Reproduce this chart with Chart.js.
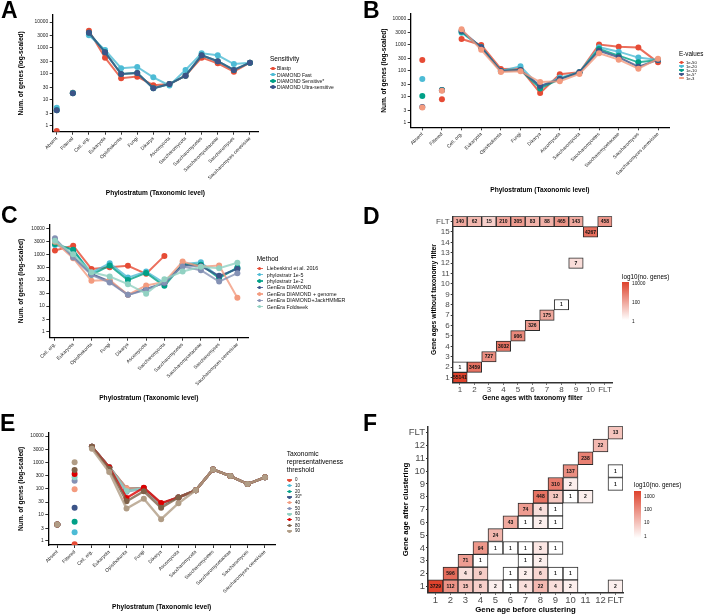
<!DOCTYPE html>
<html>
<head>
<meta charset="utf-8">
<script src="https://cdn.jsdelivr.net/npm/chart.js@4.4.1/dist/chart.umd.min.js"></script>
<style>
  body { margin: 0; background: #fff; font-family: 'Liberation Sans', Arial, sans-serif; }
  #fig { position: relative; width: 708px; height: 615px; overflow: hidden; }
  canvas { position: absolute; }
  .tag { position: absolute; font-weight: bold; font-size: 23px; line-height: 23px; color: #000; }
  .lg { position: absolute; white-space: nowrap; color: #111; }
</style>
</head>
<body>
<div id="fig">
  <canvas id="chA" width="354" height="205" style="left:0;top:0"></canvas>
  <canvas id="chB" width="354" height="205" style="left:354px;top:0"></canvas>
  <canvas id="chC" width="354" height="205" style="left:0;top:205px"></canvas>
  <canvas id="chD" width="354" height="205" style="left:354px;top:205px"></canvas>
  <canvas id="chE" width="354" height="205" style="left:0;top:410px"></canvas>
  <canvas id="chF" width="354" height="205" style="left:354px;top:410px"></canvas>
  <div class="tag" style="left:1px;top:-1px">A</div>
  <div class="tag" style="left:363px;top:-1px">B</div>
  <div class="tag" style="left:1px;top:204px">C</div>
  <div class="tag" style="left:363px;top:205px">D</div>
  <div class="tag" style="left:0;top:412px">E</div>
  <div class="tag" style="left:363px;top:412px">F</div>
</div>
<script>
Chart.defaults.font.family = "'Liberation Sans', Arial, sans-serif";

// categories
const phyloCats = ['Absent', 'Filtered', 'Cell. org.', 'Eukaryota', 'Opisthokonta', 'Fungi', 'Dikarya',
  'Ascomycota', 'Saccharomycota', 'Saccharomycetes', 'Saccharomycetaceae', 'Saccharomyces', 'Saccharomyces cerevisiae'];
const methodCats = ['Cell. org.', 'Eukaryota', 'Opisthokonta', 'Fungi', 'Dikarya', 'Ascomycota',
  'Saccharomycota', 'Saccharomycetes', 'Saccharomycetaceae', 'Saccharomyces', 'Saccharomyces cerevisiae'];
const logTicks = [1, 3, 10, 30, 100, 300, 1000, 3000, 10000];

// A - sensitivity
const sensNames = ['Blastp', 'DIAMOND Fast', 'DIAMOND Sensitive*', 'DIAMOND Ultra-sensitive'];
const sensColors = ['#E64B35', '#4DBBD5', '#00A087', '#3C5488'];
const blastp    = [0.64, 19, 4650, 425, 68, 79, 37, 41, 86, 425, 257, 122, 272];
const dmdFast   = [5.0, 19, 3080, 835, 166, 186, 74, 36, 143, 625, 525, 240, 272];
const dmdSens   = [4.0, 18, 3880, 690, 100, 110, 28, 41, 86, 525, 310, 143, 272];
const dmdUltra  = [4.0, 18, 3880, 680, 100, 109, 28, 41, 86, 525, 310, 143, 272];

// B - e-values
const evalNames = ['1e-50', '1e-20', '1e-10', '1e-5*', '1e-3'];
const evalColors = ['#E64B35', '#4DBBD5', '#00A087', '#3C5488', '#F39B7F'];
const e50 = [264, 8.0, 1700, 1000, 118, 121, 14, 74, 88, 1030, 860, 790, 213];
const e20 = [48.6, 18.3, 2970, 815, 99, 150, 24, 55, 88, 815, 550, 325, 265];
const e10 = [10.7, 18.3, 3250, 815, 99, 108, 21, 48, 88, 700, 385, 213, 265];
const e5  = [4.0, 18, 3550, 815, 99, 108, 26, 48, 88, 600, 335, 145, 265];
const e3  = [3.9, 17, 4050, 645, 91, 97, 37, 40, 76, 477, 270, 121, 290];

// C - methods
const methNames = ['Liebeskind et al. 2016', 'phylostratr 1e-5', 'phylostratr 1e-2', 'GenEra DIAMOND',
  'GenEra DIAMOND + genome', 'GenEra DIAMOND+JackHMMER', 'GenEra Foldseek'];
const methColors = ['#E64B35', '#4DBBD5', '#00A087', '#3C5488', '#F39B7F', '#8491B4', '#91D1C2'];
const liebeskind = [1380, 2140, 270, 315, 355, 175, 860, null, null, null, null];
const pstr1e5    = [2280, 1400, 190, 450, 125, 215, 77, 410, 490, 130, 290];
const pstr1e2    = [2500, 1500, 160, 365, 100, 190, 60, 410, 390, 120, 305];
const generaDmd  = [3500, 800, 175, 90, 27, 46, 77, 375, 350, 146, 270];
const generaGen  = [3000, 700, 94, 100, 27, 62, 85, 520, 330, 365, 21];
const generaJack = [4100, 750, 160, 81, 27, 42, 80, 333, 240, 88, 185];
const foldseek   = [3270, 1000, 200, 137, 70, 30, 109, 215, 330, 290, 470];

// E - taxonomic representativeness threshold
const thrNames = ['0', '10', '20', '30*', '40', '50', '60', '70', '80', '90'];
const thrColors = ['#E64B35', '#4DBBD5', '#00A087', '#3C5488', '#F39B7F', '#8491B4', '#91D1C2', '#DC0000', '#7E6148', '#B09C85'];
const thr0  = [4.2, 0.73, 3880, 640, 100, 100, 25, 45, 84, 530, 295, 146, 265];
const thr10 = [4.2, 2.1, 3880, 640, 98, 100, 25, 45, 84, 530, 295, 146, 265];
const thr20 = [4.2, 5.3, 3880, 640, 95, 100, 25, 45, 84, 530, 295, 146, 265];
const thr30 = [4.2, 18, 3880, 640, 90, 100, 25, 45, 84, 530, 295, 146, 265];
const thr40 = [4.2, 92, 3880, 640, 100, 100, 25, 45, 84, 530, 295, 146, 265];
const thr50 = [4.2, 195, 3880, 640, 74, 100, 25, 45, 84, 530, 295, 146, 265];
const thr60 = [4.2, 265, 3880, 640, 80, 100, 25, 45, 84, 530, 295, 146, 265];
const thr70 = [4.2, 350, 3880, 640, 43, 105, 27.5, 45, 84, 530, 295, 146, 265];
const thr80 = [4.2, 500, 3880, 560, 32, 77, 18, 45, 84, 530, 295, 146, 265];
const thr90 = [4.2, 1000, 3250, 420, 17, 40, 6.6, 27, 84, 530, 295, 146, 265];

// D - taxonomy filter heatmap
const dCols = ['1', '2', '3', '4', '5', '6', '7', '8', '9', '10', 'FLT'];
const dRows = ['1', '2', '3', '4', '5', '6', '7', '8', '9', '10', '11', '12', '13', '14', '15', 'FLT'];
const dX = ['1', '1', '2', '3', '4', '5', '6', '7', '8', '9', '10', '1', '2', '3', '4', '5', '6', '7', '8', '9', 'FLT'];
const dY = ['1', '2', '2', '3', '4', '5', '6', '7', '8', '12', '15', 'FLT', 'FLT', 'FLT', 'FLT', 'FLT', 'FLT', 'FLT', 'FLT', 'FLT', 'FLT'];
const dN = [55141, 1, 3459, 727, 3032, 906, 326, 175, 1, 7, 4267, 140, 62, 15, 210, 305, 83, 88, 465, 143, 458];

// F - clustering heatmap
const fCols = ['1', '2', '3', '4', '5', '6', '7', '8', '9', '10', '11', '12', 'FLT'];
const fRows = ['1', '2', '3', '4', '5', '6', '7', '8', '9', '10', '11', '12', 'FLT'];
const fX = ['1', '2', '3', '4', '5', '6', '7', '8', '9', '10', 'FLT',
  '2', '3', '4', '6', '7', '8', '9', '10',
  '3', '4', '7', '8',
  '4', '5', '6', '7', '8', '9',
  '5',
  '6', '7', '8', '9',
  '7', '8', '9',
  '8', '9', '10', '11',
  '9', '10', 'FLT',
  '10', 'FLT',
  '11', '12', 'FLT'];
const fY = ['1', '1', '1', '1', '1', '1', '1', '1', '1', '1', '1',
  '2', '2', '2', '2', '2', '2', '2', '2',
  '3', '3', '3', '3',
  '4', '4', '4', '4', '4', '4',
  '5',
  '6', '6', '6', '6',
  '7', '7', '7',
  '8', '8', '8', '8',
  '9', '9', '9',
  '10', '10',
  '11', '12', 'FLT'];
const fN = [3729, 112, 15, 8, 2, 1, 4, 22, 4, 2, 2,
  596, 4, 9, 1, 2, 6, 1, 1,
  71, 1, 1, 2,
  94, 1, 1, 1, 3, 1,
  24,
  43, 1, 2, 1,
  74, 4, 1,
  448, 12, 1, 2,
  310, 2, 1,
  137, 1,
  238, 22, 13];

function rgba(hex, a) {
  const n = parseInt(hex.slice(1), 16);
  return `rgba(${n >> 16},${(n >> 8) & 255},${n & 255},${a})`;
}

function lineChart(id, cats, names, colors, series, g) {
  const n = series.length;
  const datasets = series.map((s, i) => ({
    label: names[i],
    data: s.map((v, j) => ({ x: j, y: v })),
    borderColor: rgba(colors[i], 0.8),
    backgroundColor: colors[i],
    pointBackgroundColor: colors[i],
    pointBorderWidth: 0,
    pointRadius: 3,
    pointHoverRadius: 3,
    borderWidth: g.lw,
    order: n - i,
    segment: { borderColor: c => c.p0DataIndex < g.loose ? 'rgba(0,0,0,0)' : undefined }
  }));
  new Chart(document.getElementById(id), {
    type: 'line',
    data: { datasets },
    options: {
      responsive: false,
      animation: false,
      layout: { padding: { left: 0, top: g.top, right: 354 - g.right, bottom: 0 } },
      plugins: { legend: { display: false }, tooltip: { enabled: false } },
      scales: {
        x: {
          type: 'linear', min: g.xmin, max: g.xmax,
          afterBuildTicks: s => { s.ticks = cats.map((c, i) => ({ value: i })); },
          afterFit: s => { s.height = 205 - g.bottom; },
          ticks: { autoSkip: false, minRotation: 45, maxRotation: 45, padding: 1, color: '#222',
            font: { size: 4.9 }, callback: v => cats[v] },
          grid: { drawOnChartArea: false, tickLength: 3, color: '#000', tickWidth: 0.8 },
          border: { color: '#000', width: 1.3 },
          title: { display: true, text: 'Phylostratum (Taxonomic level)', color: '#000',
            font: { size: 6.6, weight: 'bold' }, padding: { top: 0, bottom: g.xtp } }
        },
        y: {
          type: 'logarithmic', min: g.lo, max: g.hi,
          afterBuildTicks: s => { s.ticks = logTicks.map(v => ({ value: v })); },
          afterFit: s => { s.width = g.left; },
          ticks: { padding: 1.5, color: '#222', font: { size: 4.9 }, callback: v => String(v) },
          grid: { drawOnChartArea: false, tickLength: 3, color: '#000', tickWidth: 0.8 },
          border: { color: '#000', width: 1.3 },
          title: { display: true, text: 'Num. of genes (log-scaled)', color: '#000',
            font: { size: 6.6, weight: 'bold' }, padding: { top: g.ytp, bottom: 0 } }
        }
      }
    }
  });
}

const heatHigh = [222, 66, 44];
function heatColor(v, maxLog) {
  const t = Math.max(0, Math.min(1, Math.log10(v) / maxLog));
  const c = heatHigh.map(h => Math.round(255 + (h - 255) * t));
  return `rgb(${c[0]},${c[1]},${c[2]})`;
}

const cellText = {
  id: 'cellText',
  afterDatasetsDraw(chart) {
    const ctx = chart.ctx;
    const ds = chart.data.datasets[0];
    ctx.save();
    ctx.font = "bold 5px 'Liberation Sans', Arial, sans-serif";
    ctx.fillStyle = '#111';
    ctx.textAlign = 'center';
    ctx.textBaseline = 'middle';
    chart.getDatasetMeta(0).data.forEach((el, i) => {
      ctx.fillText(String(ds.data[i].n), el.x, (el.y + el.base) / 2 + 0.3);
    });
    ctx.restore();
  }
};

function heatChart(id, cols, rows, cx, cy, cn, g) {
  const maxLog = Math.log10(Math.max(...cn));
  const data = cx.map((c, i) => {
    const r = rows.indexOf(cy[i]) + 1;
    return { x: c, y: [r - 0.5, r + 0.5], n: cn[i] };
  });
  new Chart(document.getElementById(id), {
    type: 'bar',
    data: {
      labels: cols,
      datasets: [{
        data,
        backgroundColor: c => c.raw ? heatColor(c.raw.n, maxLog) : '#fff',
        borderColor: '#2b2b2b',
        borderWidth: 1,
        borderSkipped: false,
        barPercentage: 1,
        categoryPercentage: 1
      }]
    },
    options: {
      responsive: false,
      animation: false,
      layout: { padding: { left: 0, top: g.top, right: 354 - g.right, bottom: 0 } },
      plugins: { legend: { display: false }, tooltip: { enabled: false } },
      scales: {
        x: {
          type: 'category', offset: true,
          afterFit: s => { s.height = 205 - g.bottom; },
          ticks: { autoSkip: false, maxRotation: 0, padding: 0, color: '#4D4D4D', font: { size: g.fs } },
          grid: { drawOnChartArea: false, offset: false, tickLength: 2, color: '#333' },
          border: { color: '#333', width: 1.5 },
          title: { display: true, text: g.xt, color: '#000', font: { size: g.ts, weight: 'bold' },
            padding: { top: 0, bottom: g.xtp } }
        },
        y: {
          type: 'linear', min: 0.5, max: rows.length + 0.5,
          afterBuildTicks: s => { s.ticks = rows.map((r, i) => ({ value: i + 1 })); },
          afterFit: s => { s.width = g.left; },
          ticks: { autoSkip: false, padding: 1, color: '#4D4D4D', font: { size: g.fs },
            callback: v => rows[v - 1] },
          grid: { drawOnChartArea: false, tickLength: 2, color: '#333' },
          border: { color: '#333', width: 1.5 },
          title: { display: true, text: g.yt, color: '#000', font: { size: g.ts, weight: 'bold' },
            padding: { top: g.ytp, bottom: 0 } }
        }
      }
    },
    plugins: [cellText]
  });
}

const fig = document.getElementById('fig');
function addText(x, y, text, size, extra) {
  const d = document.createElement('div');
  d.className = 'lg';
  d.style.left = x + 'px';
  d.style.top = (y - size * 0.6) + 'px';
  d.style.fontSize = size + 'px';
  d.style.lineHeight = (size * 1.2) + 'px';
  if (extra) Object.assign(d.style, extra);
  d.textContent = text;
  fig.appendChild(d);
}
function lineLegend(L, names, colors) {
  L.title.forEach((t, k) => addText(L.x, L.ty + k * L.tstep, t, L.tsize, { color: '#000' }));
  names.forEach((name, i) => {
    const cy = L.y0 + i * L.step;
    const ln = document.createElement('div');
    Object.assign(ln.style, { position: 'absolute', left: L.x + 'px', top: (cy - 0.8) + 'px',
      width: L.sw + 'px', height: '1.6px', background: rgba(colors[i], 0.85) });
    fig.appendChild(ln);
    const dot = document.createElement('div');
    const r = L.dot;
    Object.assign(dot.style, { position: 'absolute', left: (L.x + L.sw / 2 - r) + 'px', top: (cy - r) + 'px',
      width: 2 * r + 'px', height: 2 * r + 'px', borderRadius: '50%', background: colors[i] });
    fig.appendChild(dot);
    addText(L.tx, cy, name, L.size);
  });
}
function barLegend(B) {
  addText(B.x, B.ty, 'log10(no. genes)', B.tsize, { color: '#000' });
  const bar = document.createElement('div');
  Object.assign(bar.style, { position: 'absolute', left: B.x + 'px', top: B.top + 'px', width: '7px',
    height: (B.bottom - B.top) + 'px',
    background: `linear-gradient(to top, #fff, rgb(${heatHigh.join(',')}))` });
  fig.appendChild(bar);
  B.labels.forEach((lab, k) => addText(B.x + 10, B.ly[k], lab, B.size));
}

lineChart('chA', phyloCats, sensNames, sensColors, [blastp, dmdFast, dmdSens, dmdUltra],
  { left: 52.7, right: 258, top: 15, bottom: 131.7, lo: 0.6, hi: 18600, xmin: -0.25, xmax: 12.5,
    ytp: 17.5, xtp: 8.1, lw: 2, loose: 2 });
lineChart('chB', phyloCats, evalNames, evalColors, [e50, e20, e10, e5, e3],
  { left: 56.7, right: 315, top: 14, bottom: 127.3, lo: 0.665, hi: 15600, xmin: -0.59, xmax: 12.56,
    ytp: 26.5, xtp: 10.8, lw: 2, loose: 2 });
lineChart('chC', methodCats, methNames, methColors,
  [liebeskind, pstr1e5, pstr1e2, generaDmd, generaGen, generaJack, foldseek],
  { left: 49.3, right: 248.3, top: 19.3, bottom: 132.7, lo: 0.62, hi: 14250, xmin: -0.31, xmax: 10.6,
    ytp: 17.5, xtp: 7.5, lw: 2, loose: 0 });
lineChart('chE', phyloCats, thrNames, thrColors,
  [thr0, thr10, thr20, thr30, thr40, thr50, thr60, thr70, thr80, thr90],
  { left: 48.3, right: 275, top: 22.7, bottom: 135, lo: 0.685, hi: 13370, xmin: -0.52, xmax: 12.58,
    ytp: 17.5, xtp: 4.1, lw: 2.4, loose: 2 });

heatChart('chD', dCols, dRows, dX, dY, dN,
  { left: 98.7, right: 258.2, top: 11.3, bottom: 177.7, fs: 8, ts: 6.8,
    xt: 'Gene ages with taxonomy filter', yt: 'Gene ages without taxonomy filter', xtp: 7.5, ytp: 75.8 });
heatChart('chF', fCols, fRows, fX, fY, fN,
  { left: 74, right: 269, top: 16.3, bottom: 182.7, fs: 9.5, ts: 7.8,
    xt: 'Gene age before clustering', yt: 'Gene age after clustering', xtp: 0, ytp: 47 });

lineLegend({ title: ['Sensitivity'], x: 270, ty: 59, tstep: 0, tsize: 6.5, y0: 68.3, step: 6.33,
  sw: 6, dot: 1.8, tx: 277, size: 5 }, sensNames, sensColors);
lineLegend({ title: ['E-values'], x: 679, ty: 53.3, tstep: 0, tsize: 6.3, y0: 62.3, step: 3.95,
  sw: 5, dot: 1.4, tx: 686, size: 4.2 }, evalNames, evalColors);
lineLegend({ title: ['Method'], x: 256.7, ty: 259, tstep: 0, tsize: 6.5, y0: 268.3, step: 6.4,
  sw: 6, dot: 1.8, tx: 266.7, size: 5.3 }, methNames, methColors);
lineLegend({ title: ['Taxonomic', 'representativeness', 'threshold'], x: 286.7, ty: 454, tstep: 8.15,
  tsize: 6.7, y0: 480, step: 5.67, sw: 5, dot: 1.5, tx: 295, size: 4.5 }, thrNames, thrColors);

barLegend({ x: 622, ty: 276.7, tsize: 6.3, top: 281.7, bottom: 320, size: 4.8,
  labels: ['10000', '100', '1'], ly: [284, 303, 321.7] });
barLegend({ x: 634, ty: 485, tsize: 6.3, top: 491, bottom: 538, size: 4.8,
  labels: ['1000', '100', '10', '1'], ly: [497, 510, 523, 537] });
</script>
</body>
</html>
